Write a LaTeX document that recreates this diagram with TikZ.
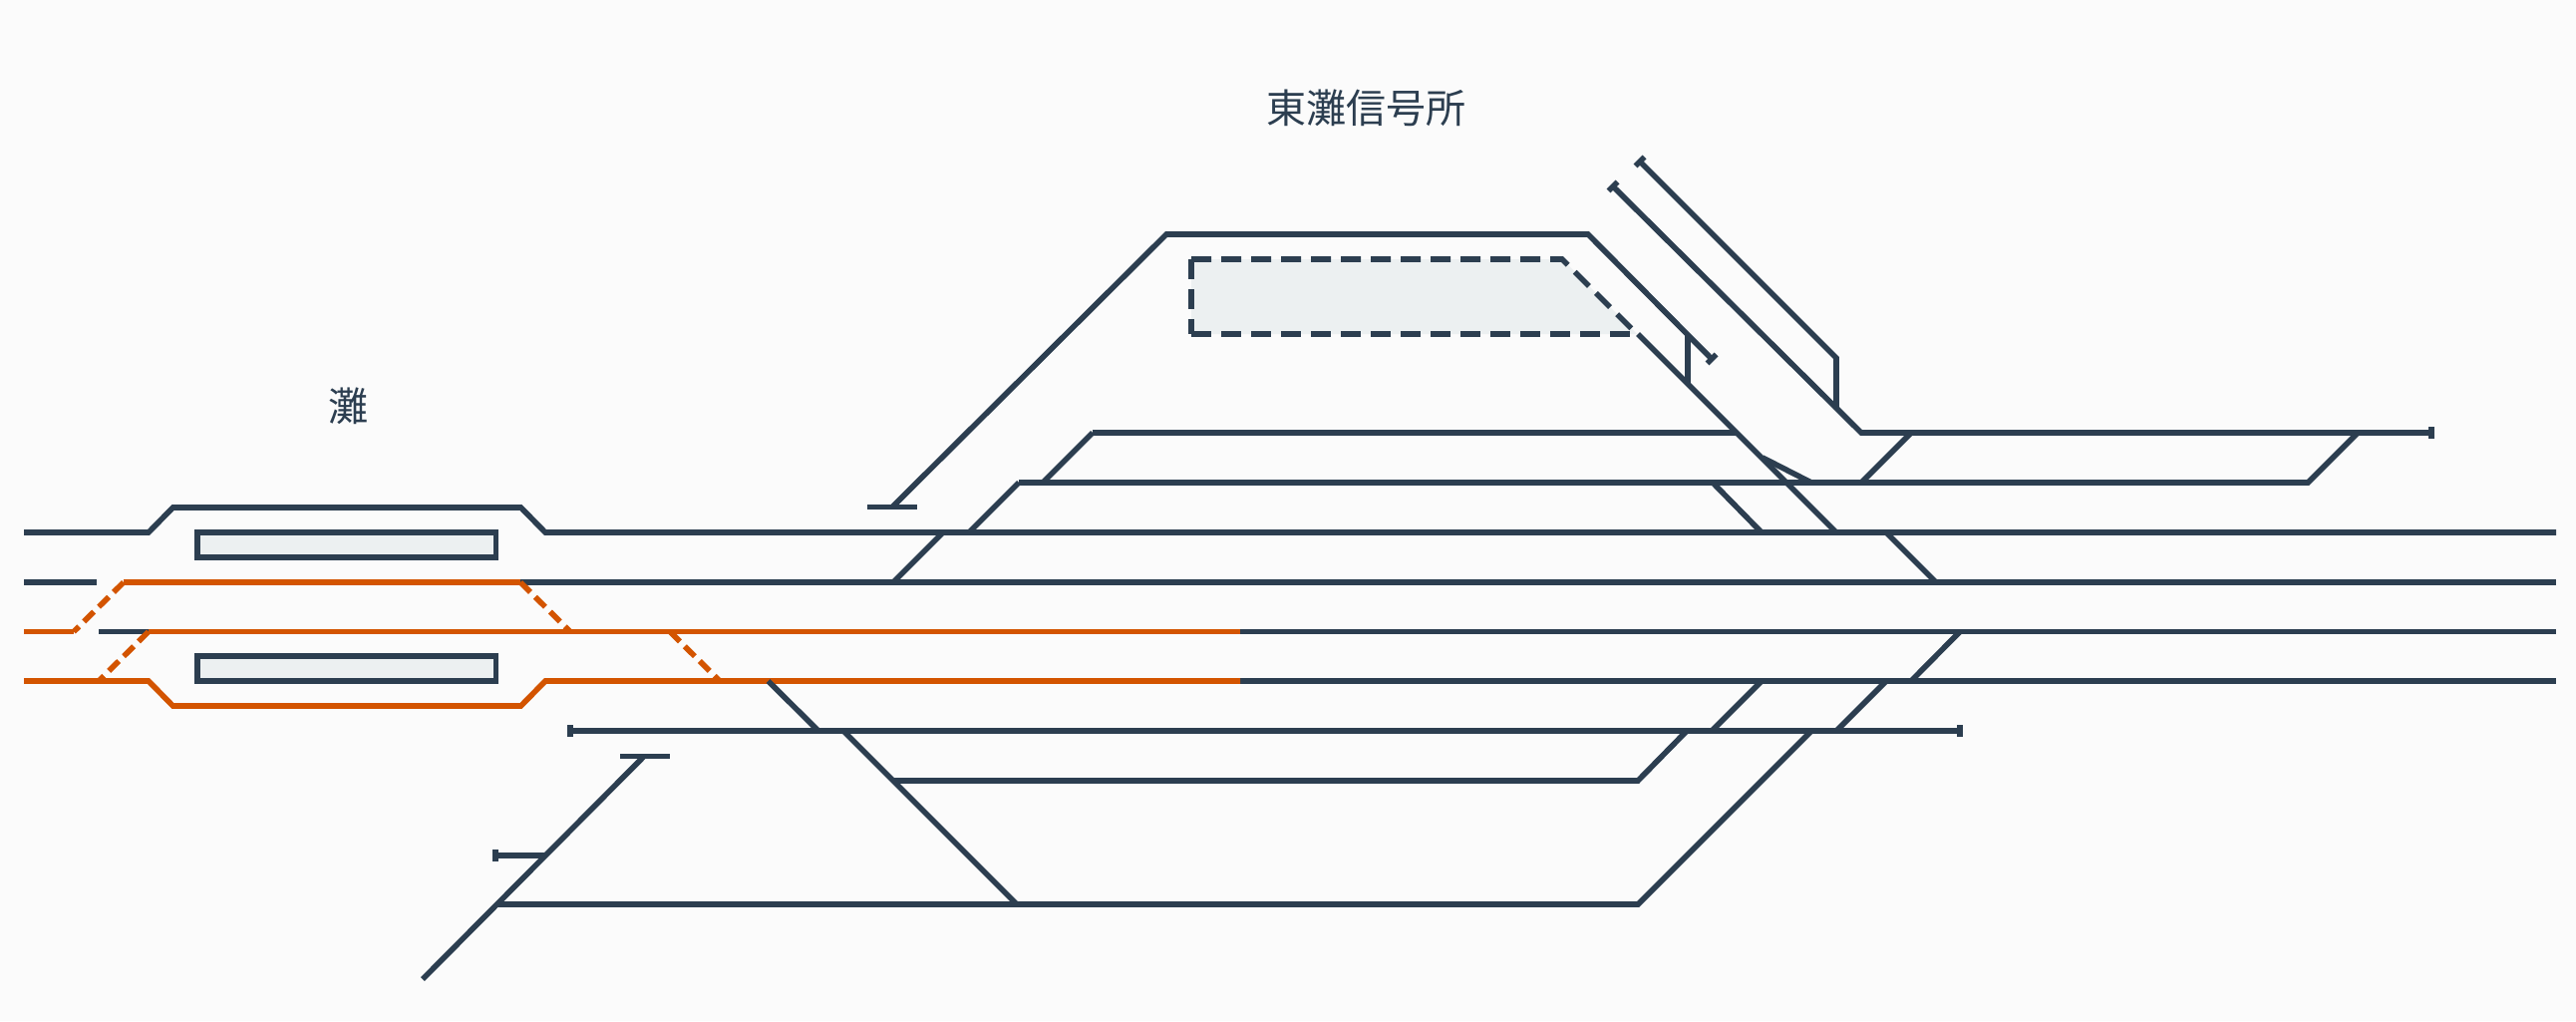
\documentclass[tikz,border=0pt]{standalone}
\usepackage{fontspec}
\newfontfamily\cjk{Noto Sans CJK JP}
\definecolor{navy}{HTML}{2C3E50}
\definecolor{rust}{HTML}{D35400}
\definecolor{pale}{HTML}{ECF0F1}
\definecolor{paper}{HTML}{FBFBFB}
\tikzset{
  trk/.style={draw=navy,line width=2.8pt,line join=miter},
  ora/.style={draw=rust,line width=2.8pt,line join=miter},
  oradash/.style={ora,dash pattern=on 7pt off 3.5pt},
  platform/.style={trk,fill=pale},
  yardline/.style={trk,dash pattern=on 10pt off 5pt},
  lbl/.style={text=navy,font=\cjk\fontsize{20pt}{24pt}\selectfont,inner sep=0pt}
}
\begin{document}
\begin{tikzpicture}[x=0.5pt,y=-0.5pt]
\useasboundingbox[fill=paper] (0,0) rectangle (2584,1024);
% labels
\node[lbl] (nada) at (349,407.5) {灘};
\node[lbl] (higashinada) at (1370,108) {東灘信号所};
% platforms
\draw[platform] (198,534) rectangle (497.5,559);
\draw[platform] (198,658) rectangle (497.5,683);
% signal yard platform
\fill[pale] (1195,260) -- (1567,260) -- (1642,335) -- (1195,335) -- cycle;
\draw[yardline] (1195,335) -- (1642,335);
\draw[yardline] (1195,260) -- (1567,260) -- (1642,335);
\draw[yardline] (1195,260) -- (1195,335);
% main lines, navy
\draw[trk] (24,534) -- (149,534) -- (173.5,509) -- (522.5,509) -- (547,534) -- (2564,534);
\draw[trk] (24,584) -- (97,584);
\draw[trk] (522,584) -- (2564,584);
\draw[trk] (99,633.5) -- (149,633.5);
\draw[trk] (1244,633.5) -- (2564,633.5);
\draw[trk] (1244,683) -- (2564,683);
% main lines, orange
\draw[ora] (124,584) -- (522,584);
\draw[ora] (24,633.5) -- (74,633.5);
\draw[ora] (149,633.5) -- (1244,633.5);
\draw[ora] (24,683) -- (149,683) -- (173.5,708) -- (522.5,708) -- (547,683) -- (1244,683);
\draw[oradash] (124,584) -- (74,633.5);
\draw[oradash] (149,633.5) -- (99,683);
\draw[oradash] (522,584) -- (572,633.5);
\draw[oradash] (672,633.5) -- (722,683);
% lower yard
\draw[trk] (572,727) -- (572,739);
\draw[trk] (572,733) -- (1966,733);
\draw[trk] (1966,727) -- (1966,739);
\draw[trk] (770.5,683) -- (821,733);
\draw[trk] (846,733) -- (1020,907);
\draw[trk] (896,783) -- (1643,783) -- (1692,733);
\draw[trk] (498,907) -- (1643,907) -- (1817,733);
\draw[trk] (1717,733) -- (1767,683);
\draw[trk] (1842,733) -- (1892,683);
\draw[trk] (1917,683) -- (1966,633.5);
\draw[trk] (424,982) -- (645.5,759);
\draw[trk] (622,758.5) -- (671.5,758.5);
\draw[trk] (497,858) -- (547,858);
\draw[trk] (497,852) -- (497,864);
% upper yard
\draw[trk] (870,508.5) -- (920,508.5);
\draw[trk] (895,508.5) -- (1170,235) -- (1593,235) -- (1717,360);
\draw[trk] (1712.5,364.5) -- (1721.5,355.5);
\draw[trk] (1613.5,191.5) -- (1622.5,182.5);
\draw[trk] (1618,187) -- (1867,434) -- (2439,434);
\draw[trk] (2439,428) -- (2439,440);
\draw[trk] (1640.5,166.5) -- (1649.5,157.5);
\draw[trk] (1645,162) -- (1842,359) -- (1842,410);
\draw[trk] (1692.7,335) -- (1692.7,385);
\draw[trk] (1643,335) -- (1842,534);
\draw[trk] (1096,434) -- (1742,434);
\draw[trk] (1096,434) -- (1046,484);
\draw[trk] (1022,484) -- (2315,484) -- (2365,434);
\draw[trk] (1022,484) -- (972,534);
\draw[trk] (946,534) -- (896,584);
\draw[trk] (1768,459) -- (1817,484);
\draw[trk] (1867,484) -- (1917,434);
\draw[trk] (1718,484) -- (1767,534);
\draw[trk] (1892,534) -- (1942,584);
\end{tikzpicture}
\end{document}
